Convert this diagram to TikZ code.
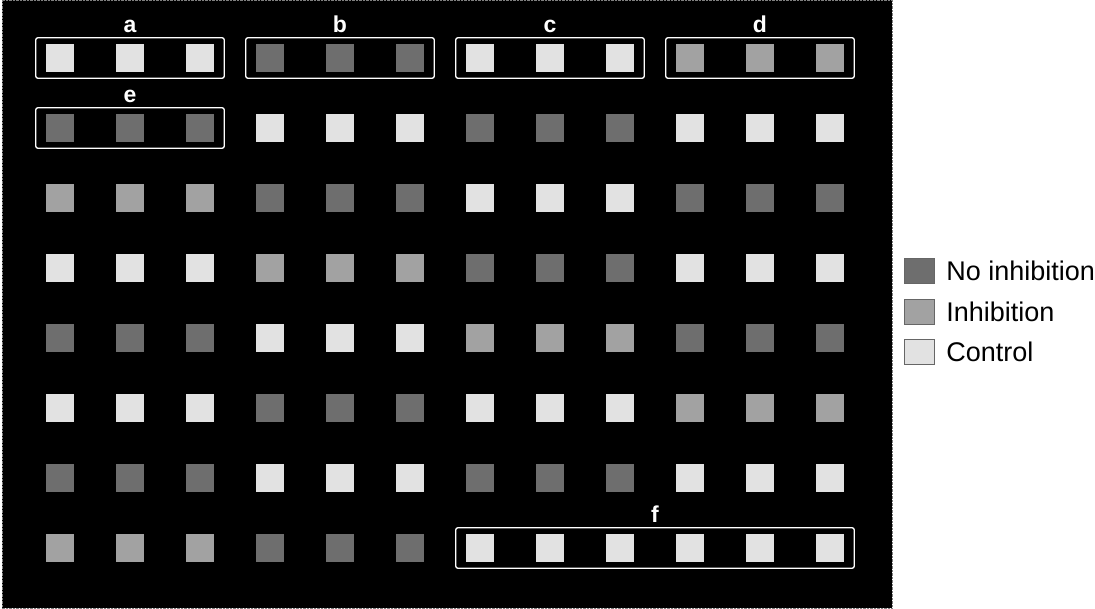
\documentclass[tikz,border=0pt]{standalone}
\usepackage{fontspec}
\setmainfont{Liberation Sans}
\usetikzlibrary{positioning,fit}
\definecolor{shadeD}{HTML}{6E6E6E}
\definecolor{shadeM}{HTML}{A2A2A2}
\definecolor{shadeW}{HTML}{E2E2E2}

\begin{document}
\begin{tikzpicture}[x=1pt, y=-1pt,
    well/.style={minimum width=28pt, minimum height=28pt, inner sep=0pt},
    frame/.style={draw=white, line width=1.3pt, rounded corners=2pt, inner xsep=10pt, inner ysep=6pt},
    lbl/.style={text=white, font=\fontsize{23}{23}\selectfont\bfseries, inner sep=0pt},
    key/.style={minimum width=30pt, minimum height=25pt, inner sep=0pt, draw=black!60},
    keytext/.style={font=\fontsize{27}{27}\selectfont, inner sep=0pt}]
    \useasboundingbox (0,0) rectangle (1095,608);

    % plate
    \fill[black] (2,0) rectangle (892,608);
    \draw[gray, densely dotted] (2,0) rectangle (892,608);

    % wells: W = control, M = inhibition, D = no inhibition
    \foreach \r/\row in {1/{W,D,W,M}, 2/{D,W,D,W}, 3/{M,D,W,D}, 4/{W,M,D,W},
                         5/{D,W,M,D}, 6/{W,D,W,M}, 7/{D,W,D,W}, 8/{M,D,W,W}} {
      \foreach \g [count=\gi from 0] in \row {
        \foreach \k in {1,2,3} {
          \pgfmathtruncatemacro{\c}{3*\gi+\k}
          \node[well, fill=shade\g] (s-\r-\c) at ({60+70*(\c-1)}, {70*\r-12}) {};
        }
      }
    }

    % framed groups
    \node[frame, fit=(s-1-1)(s-1-3)] (fa) {};
    \node[frame, fit=(s-1-4)(s-1-6)] (fb) {};
    \node[frame, fit=(s-1-7)(s-1-9)] (fc) {};
    \node[frame, fit=(s-1-10)(s-1-12)] (fd) {};
    \node[frame, fit=(s-2-1)(s-2-3)] (fe) {};
    \node[frame, fit=(s-8-7)(s-8-12)] (ff) {};
    \node[lbl, above=4pt of fa] (la) {a};
    \node[lbl, above=4pt of fb] (lb) {b};
    \node[lbl, above=4pt of fc] (lc) {c};
    \node[lbl, above=4pt of fd] (ld) {d};
    \node[lbl, above=4pt of fe] (le) {e};
    \node[lbl, above=4pt of ff] (lf) {f};

    % legend
    \node[key, fill=shadeD] (k-noinh) at (919,271) {};
    \node[key, fill=shadeM, below=15pt of k-noinh] (k-inh) {};
    \node[key, fill=shadeW, below=15pt of k-inh] (k-ctrl) {};
    \node[keytext, right=12pt of k-noinh] (t-noinh) {No inhibition};
    \node[keytext, right=12pt of k-inh] (t-inh) {Inhibition};
    \node[keytext, right=12pt of k-ctrl] (t-ctrl) {Control};
  \end{tikzpicture}
\end{document}
